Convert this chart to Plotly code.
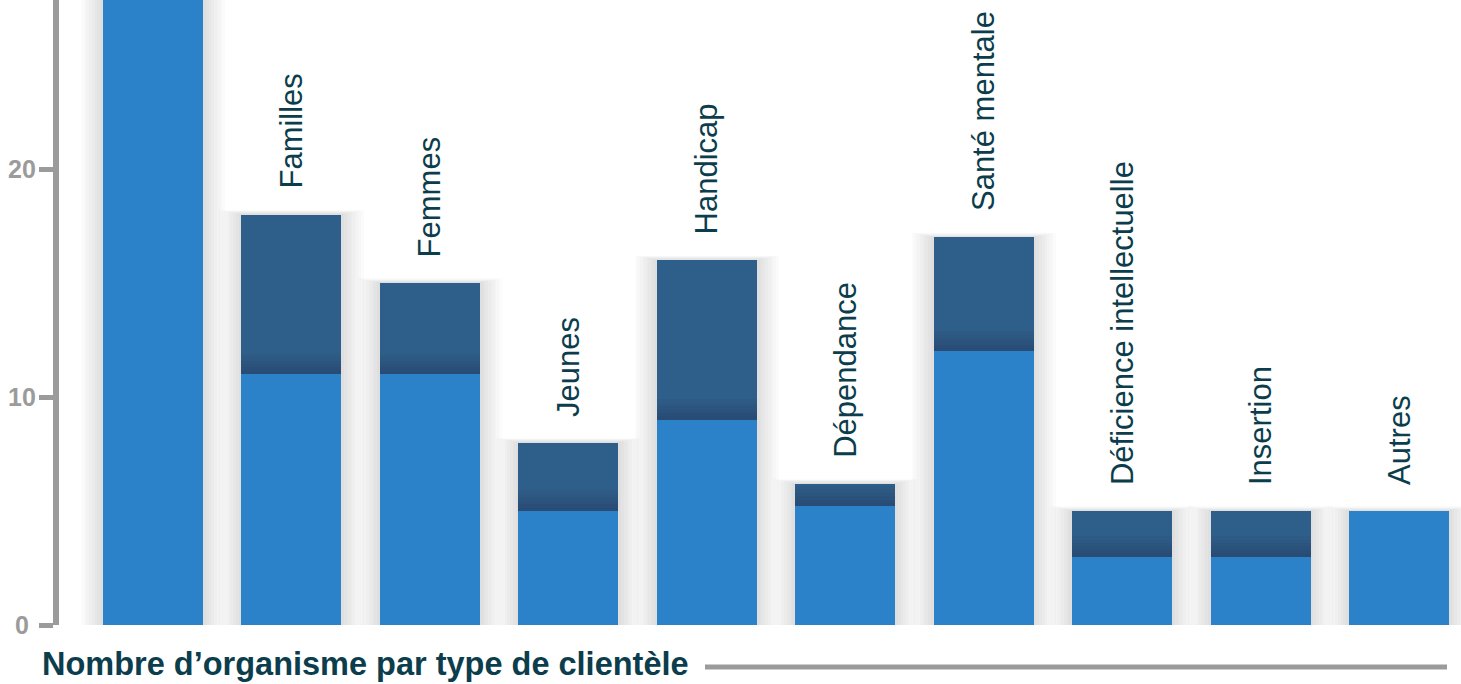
import numpy as np
import plotly.graph_objects as go

# ---- data ----
categories = ["Aînés", "Familles", "Femmes", "Jeunes", "Handicap", "Dépendance",
              "Santé mentale", "Déficience intellectuelle", "Insertion", "Autres"]
base_values = [30, 11, 11, 5, 9, 5.2, 12, 3, 3, 5]
extra_values = [0, 7, 4, 3, 7, 1, 5, 2, 2, 0]
y_tick_values = [0, 10, 20]
y_tick_labels = ["0", "10", "20"]
chart_title = "Nombre d’organisme par type de clientèle"

# ---- styles ----
LIGHT = "#2B82C8"
DARK = "#2E5E8A"
TEXT = "#0B3D4C"
GREY = "#9B9B9B"
FONT = "Liberation Sans, Arial, sans-serif"
BAR_W = 0.722

W, H = 1461, 684
ML, MR, MT, MB = 59, 0, 0, 59
plot_w = W - ML - MR
plot_h = H - MT - MB

base = np.array(base_values, dtype=float)
extra = np.array(extra_values, dtype=float)
total = base + extra

fig = go.Figure()

# soft drop shadow layers
for k in range(1, 9):
    fig.add_trace(go.Bar(
        x=categories, y=total + 0.025 * k, width=BAR_W + 0.04 * k,
        marker=dict(color="rgba(0,0,0,0.014)", line=dict(width=0)),
        hoverinfo="skip", showlegend=False))

# dark (upper) segment drawn as full-height bar
fig.add_trace(go.Bar(
    x=categories, y=total, width=BAR_W,
    marker=dict(color=DARK, line=dict(width=0)), showlegend=False))

# inner shading at bottom of dark segment
for h in [0.15, 0.3, 0.45, 0.6, 0.75, 0.9]:
    fig.add_trace(go.Bar(
        x=categories, y=np.minimum(extra, h), base=base, width=BAR_W,
        marker=dict(color="rgba(15,35,60,0.04)", line=dict(width=0)),
        hoverinfo="skip", showlegend=False))

# light (lower) segment
fig.add_trace(go.Bar(
    x=categories, y=base, width=BAR_W,
    marker=dict(color=LIGHT, line=dict(width=0)), showlegend=False))

# rotated category labels above each bar
for cat, t in zip(categories, total):
    fig.add_annotation(
        x=cat, y=t, xref="x", yref="y", text=cat, showarrow=False,
        textangle=-90, xanchor="center", yanchor="bottom", yshift=24,
        font=dict(family=FONT, size=31, color=TEXT))

# y tick labels (centered)
for v, lab in zip(y_tick_values, y_tick_labels):
    fig.add_annotation(
        x=(21.5 - ML) / plot_w, xref="paper", y=v, yref="y", text="<b>" + lab + "</b>",
        showarrow=False, xanchor="center", yanchor="middle",
        font=dict(family=FONT, size=25, color=GREY))

# bottom title + rule
fig.add_annotation(
    x=(40 - ML) / plot_w, xref="paper", y=-(664 - (H - MB)) / plot_h, yref="paper",
    text="<b>" + chart_title + "</b>", showarrow=False, xanchor="left", yanchor="middle",
    font=dict(family=FONT, size=32.5, color=TEXT))
fig.add_shape(type="line", xref="paper", yref="paper",
              x0=(705 - ML) / plot_w, x1=(1447 - ML) / plot_w,
              y0=-(667 - (H - MB)) / plot_h, y1=-(667 - (H - MB)) / plot_h,
              line=dict(color=GREY, width=5))

x_left = -0.679
x_right = x_left + plot_w / 138.44
fig.update_layout(
    width=W, height=H, barmode="overlay", bargap=0,
    margin=dict(l=ML, r=MR, t=MT, b=MB, pad=0),
    paper_bgcolor="white", plot_bgcolor="white",
    xaxis=dict(type="category", range=[x_left, x_right], showticklabels=False,
               showgrid=False, zeroline=False, showline=False, ticks=""),
    yaxis=dict(range=[0, (H - MB) / 22.8], tickmode="array", tickvals=y_tick_values,
               showticklabels=False, ticks="outside", ticklen=14, tickwidth=5,
               tickcolor=GREY, showline=True, linewidth=6, linecolor=GREY,
               showgrid=False, zeroline=False),
)

fig.write_html("out.html", config={"displayModeBar": False},
               post_script="document.body.style.margin='0';document.body.style.overflow='hidden';")
